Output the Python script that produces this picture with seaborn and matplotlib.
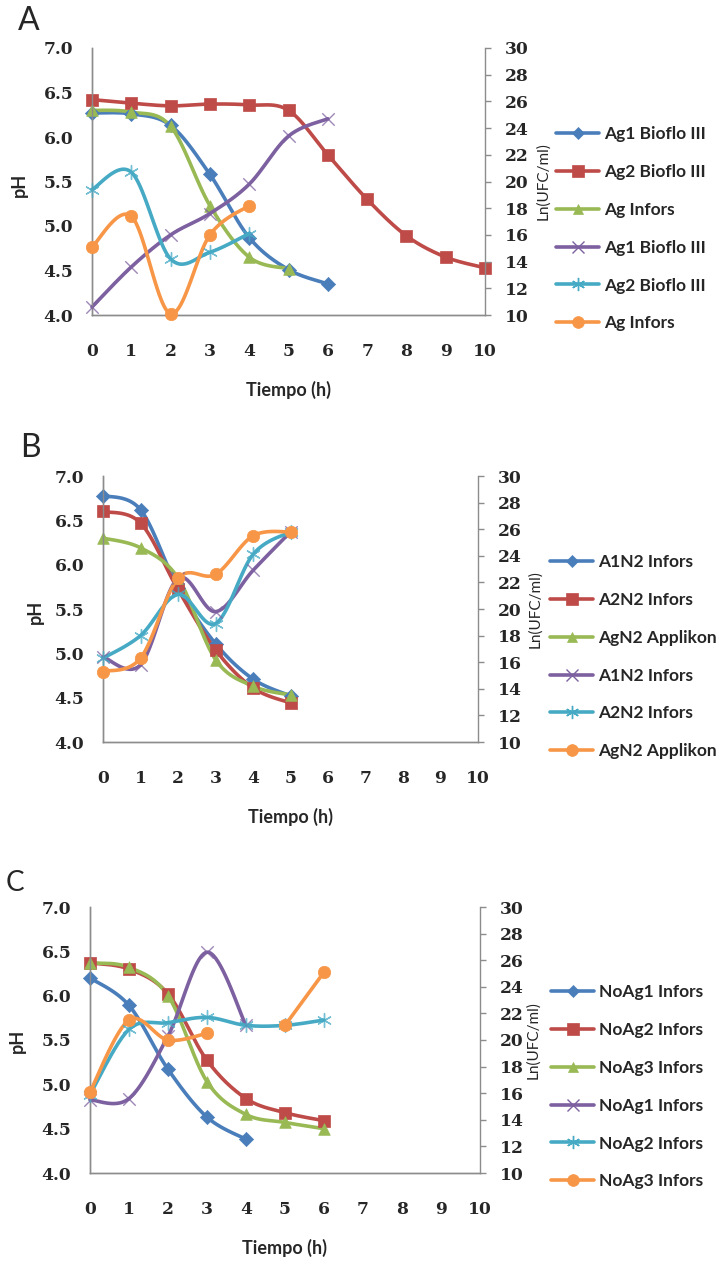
import numpy as np
import pandas as pd
import matplotlib
matplotlib.use('Agg')
import matplotlib.pyplot as plt
from matplotlib.lines import Line2D
from matplotlib.ticker import FormatStrFormatter, MultipleLocator
import seaborn as sns

sns.set_style('white')
plt.rcParams['font.family'] = ['Lato', 'DejaVu Sans']

# ---------------- data ----------------
hours = list(range(11))

# panel A
A_labels = ['Ag1 Bioflo III', 'Ag2 Bioflo III', 'Ag Infors',
            'Ag1 Bioflo III', 'Ag2 Bioflo III', 'Ag Infors']
A_ag1_ph = [6.27, 6.26, 6.13, 5.58, 4.87, 4.51, 4.35]
A_ag2_ph = [6.42, 6.38, 6.35, 6.37, 6.36, 6.30, 5.80, 5.30, 4.89, 4.65, 4.53]
A_agi_ph = [6.30, 6.28, 6.12, 5.23, 4.65, 4.52]
A_ag1_ln = [10.6, 13.6, 16.0, 17.6, 19.8, 23.4, 24.7]
A_ag2_ln = [19.4, 20.7, 14.2, 14.7, 16.1]
A_agi_ln = [15.1, 17.4, 10.1, 16.0, 18.2]

# panel B
B_labels = ['A1N2 Infors', 'A2N2 Infors', 'AgN2 Applikon',
            'A1N2 Infors', 'A2N2 Infors', 'AgN2 Applikon']
B_a1_ph = [6.78, 6.62, 5.74, 5.11, 4.71, 4.52]
B_a2_ph = [6.60, 6.47, 5.72, 5.04, 4.61, 4.44]
B_ag_ph = [6.30, 6.19, 5.85, 4.93, 4.63, 4.53]
B_a1_ln = [16.4, 15.8, 22.3, 19.8, 22.9, 25.8]
B_a2_ln = [16.3, 18.0, 21.1, 18.9, 24.1, 25.8]
B_ag_ln = [15.3, 16.3, 22.3, 22.6, 25.5, 25.8]

# panel C
C_labels = ['NoAg1 Infors', 'NoAg2 Infors', 'NoAg3 Infors',
            'NoAg1 Infors', 'NoAg2 Infors', 'NoAg3 Infors']
C_n1_ph = [6.20, 5.89, 5.17, 4.63, 4.38]
C_n2_ph = [6.37, 6.30, 6.02, 5.27, 4.84, 4.68, 4.59]
C_n3_ph = [6.37, 6.32, 6.00, 5.03, 4.66, 4.57, 4.50]
C_n1_ln = [15.5, 15.6, 20.3, 26.6, 21.1]
C_n2_ln = [15.9, 20.8, 21.3, 21.7, 21.1, 21.1, 21.5]
C_n3_ln = [16.1, 21.5, 20.0, 20.5, np.nan, 21.1, 25.1]

colors = ['#4A7EBB', '#BE4B48', '#98B954', '#7D60A0', '#46AAC5', '#F79646']
markers = ['D', 's', '^', 'x', (6, 2, 0), 'o']
msizes = [52, 80, 70, 80, 100, 80]

W, H = 723, 1262


def smooth(x, y, n=25):
    # excel-like smoothed line (bezier with catmull-rom handles), split at gaps
    x = np.asarray(x, float)
    y = np.asarray(y, float)
    segs = []
    cur = []
    for xi, yi in zip(x, y):
        if np.isnan(yi):
            if cur:
                segs.append(cur)
            cur = []
        else:
            cur.append((xi, yi))
    if cur:
        segs.append(cur)
    out = []
    t = np.linspace(0, 1, n)[:, None]
    for s in segs:
        P = np.array(s)
        if len(P) < 2:
            continue
        E = np.vstack([P[0], P, P[-1]])
        pts = []
        for i in range(len(P) - 1):
            p0, p1, p2, p3 = E[i], E[i + 1], E[i + 2], E[i + 3]
            c1 = p1 + (p2 - p0) / 6
            c2 = p2 - (p3 - p1) / 6
            b = ((1 - t) ** 3) * p1 + 3 * ((1 - t) ** 2) * t * c1 + 3 * (1 - t) * t ** 2 * c2 + t ** 3 * p2
            pts.append(b)
        out.append(np.vstack(pts))
    return out


def draw_series(ax, vals, i):
    t = hours[:len(vals)]
    for seg in smooth(t, vals):
        df = pd.DataFrame({'t': seg[:, 0], 'v': seg[:, 1]})
        sns.lineplot(data=df, x='t', y='v', sort=False, estimator=None,
                     color=colors[i], lw=2.6, ax=ax, clip_on=False, zorder=2)
    df = pd.DataFrame({'t': t, 'v': vals}).dropna()
    if markers[i] in ('x',) or isinstance(markers[i], tuple):
        ax.scatter(df['t'], df['v'], marker=markers[i], s=msizes[i],
                   color=colors[i], linewidths=1.0, alpha=0.75, clip_on=False, zorder=3)
    else:
        sns.scatterplot(data=df, x='t', y='v', marker=markers[i], s=msizes[i],
                        color=colors[i], edgecolor=colors[i], linewidth=0.5,
                        ax=ax, clip_on=False, zorder=3, legend=False)


def panel(rect_px, letter, letter_px, letter_size, ph_series, ln_series, labels,
          ph_px, ln_x, leg_px):
    l, top, r, bot = rect_px
    ax = fig.add_axes([l / W, 1 - bot / H, (r - l) / W, (bot - top) / H])
    ax2 = ax.twinx()
    for k, v in enumerate(ph_series):
        draw_series(ax, v, k)
    for k, v in enumerate(ln_series):
        draw_series(ax2, v, k + 3)

    ax.set_xlim(0, 10)
    ax.set_ylim(4, 7)
    ax2.set_ylim(10, 30)
    ax.xaxis.set_major_locator(MultipleLocator(1))
    ax.yaxis.set_major_locator(MultipleLocator(0.5))
    ax.yaxis.set_major_formatter(FormatStrFormatter('%.1f'))
    ax2.yaxis.set_major_locator(MultipleLocator(2))
    for a in (ax, ax2):
        for sp in a.spines.values():
            sp.set_color('#8C8C8C')
            sp.set_linewidth(1.0)
        a.spines['top'].set_visible(False)
        a.set_xlabel('')
        a.set_ylabel('')
    ax.spines['right'].set_visible(False)
    tickfont = dict(family='DejaVu Serif', weight='bold', size=12.3)
    ax.tick_params(axis='x', length=0, pad=20)
    ax.tick_params(axis='y', length=0, pad=13.5)
    ax2.tick_params(axis='y', direction='out', length=4.5, width=1,
                    color='#8C8C8C', pad=9.5)
    for lab in ax.get_xticklabels() + ax.get_yticklabels() + ax2.get_yticklabels():
        lab.set_fontproperties(matplotlib.font_manager.FontProperties(**tickfont))

    cx = (l + r) / 2
    fig.text(cx / W, 1 - (bot + 75) / H, 'Tiempo (h)', ha='center', va='center',
             fontsize=13, fontweight='bold')
    fig.text(ph_px[0] / W, 1 - ph_px[1] / H, 'pH', rotation=90, ha='center',
             va='center', fontsize=13, fontweight='bold')
    fig.text(ln_x / W, 1 - (top + bot) / 2 / H, 'Ln(UFC/ml)', rotation=90,
             ha='center', va='center', fontsize=11)
    fig.text(letter_px[0] / W, 1 - letter_px[1] / H, letter, ha='left',
             va='center', fontsize=letter_size)

    handles = [Line2D([], [], color=colors[k], lw=2.6, marker=markers[k],
                      markersize=[6, 8, 7.5, 9, 9.5, 8.5][k],
                      markeredgewidth=1.0 if k in (3, 4) else 0.5)
               for k in range(6)]
    ax2.legend(handles, labels, loc='upper left',
               bbox_to_anchor=(leg_px[0] / W, 1 - leg_px[1] / H),
               bbox_transform=fig.transFigure, frameon=False,
               prop=dict(family='Lato', weight='bold', size=12.5),
               handlelength=2.5, handletextpad=0.25, labelspacing=1.26,
               borderpad=0, borderaxespad=0)
    return ax, ax2


fig = plt.figure(figsize=(W / 100, H / 100), dpi=100)

panel((92, 48, 485, 315), 'A', (18, 21), 23,
      [A_ag1_ph, A_ag2_ph, A_agi_ph], [A_ag1_ln, A_ag2_ln, A_agi_ln], A_labels,
      (19, 185), 543, (556, 126))
panel((103, 476, 478, 742), 'B', (20, 448), 23,
      [B_a1_ph, B_a2_ph, B_ag_ph], [B_a1_ln, B_a2_ln, B_ag_ln], B_labels,
      (35, 612), 535, (550, 554))
panel((90, 907, 480, 1173), 'C', (6, 883), 20,
      [C_n1_ph, C_n2_ph, C_n3_ph], [C_n1_ln, C_n2_ln, C_n3_ln], C_labels,
      (17, 1041), 533, (551, 984))

fig.savefig('out.png', dpi=100, facecolor='white')
